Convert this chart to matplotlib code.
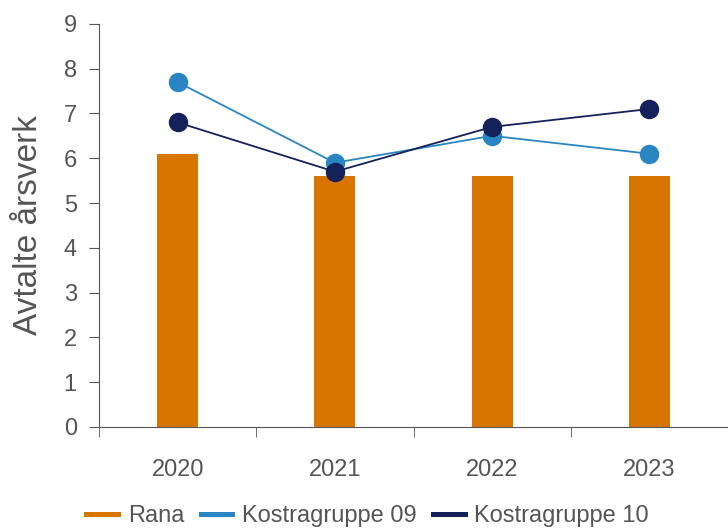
import matplotlib.pyplot as plt
import numpy as np

# data
years = ['2020', '2021', '2022', '2023']
rana = [6.1, 5.6, 5.6, 5.6]
kostra09 = [7.7, 5.9, 6.5, 6.1]
kostra10 = [6.8, 5.7, 6.7, 7.1]

c_rana = '#d67500'
c_k09 = '#2a85c3'
c_k10 = '#14215a'
grey = '#555555'

plt.rcParams['font.family'] = ['Liberation Sans', 'DejaVu Sans']

fig = plt.figure(figsize=(7.28, 5.31), dpi=100)
ax = fig.add_axes([0.136, 0.196, 0.864, 0.759])

x = np.arange(len(years))
ax.bar(x, rana, width=0.26, color=c_rana, label='Rana', zorder=2)
ax.plot(x, kostra09, color=c_k09, lw=1.3, marker='o', ms=13, label='Kostragruppe 09', zorder=3)
ax.plot(x, kostra10, color=c_k10, lw=1.3, marker='o', ms=13, label='Kostragruppe 10', zorder=4)

ax.set_xlim(-0.5, 3.5)
ax.set_ylim(0, 9)
ax.set_yticks(range(0, 10))
ax.set_xticks(x)
ax.set_xticklabels(years)
ax.set_xticks(np.arange(-0.5, 4, 1), minor=True)
ax.tick_params(axis='x', which='major', length=0, pad=23, labelsize=17, labelcolor=grey)
ax.tick_params(axis='x', which='minor', length=7, color=grey)
ax.tick_params(axis='y', length=7, color=grey, labelsize=17, labelcolor=grey, pad=9)

for s in ['top', 'right']:
    ax.spines[s].set_visible(False)
for s in ['left', 'bottom']:
    ax.spines[s].set_color(grey)

ax.set_ylabel('Avtalte årsverk', fontsize=24, color=grey, labelpad=14)

handles = [plt.Line2D([], [], color=c, lw=3.6) for c in (c_rana, c_k09, c_k10)]
fig.legend(handles, ['Rana', 'Kostragruppe 09', 'Kostragruppe 10'],
           loc='center', bbox_to_anchor=(0.505, 0.028), ncol=3, frameon=False,
           fontsize=17, labelcolor=grey, handlelength=1.35, handletextpad=0.4,
           columnspacing=0.7, borderpad=0)

fig.savefig('out.png', dpi=100)
